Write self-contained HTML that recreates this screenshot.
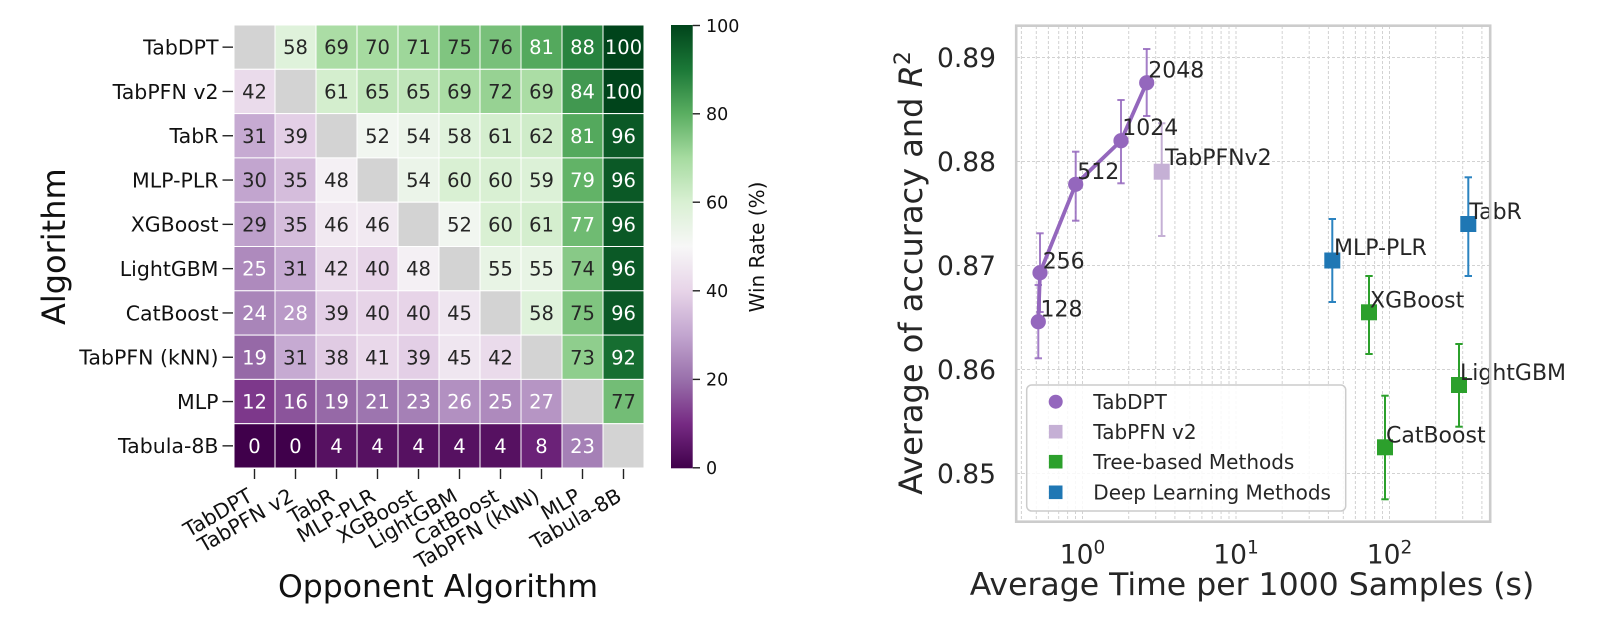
<!DOCTYPE html>
<html><head><meta charset="utf-8"><style>
html,body{margin:0;padding:0;background:#fff;}
svg{display:block;font-family:"DejaVu Sans","Liberation Sans",sans-serif;}
.hl{font-size:20.5px;fill:#111;}
.an{font-size:19.5px;text-anchor:middle;}
.w{fill:#fff;}
.d{fill:#262626;}
.ct{font-size:17.5px;fill:#111;}
.rt{font-size:26.5px;fill:#262626;}
.pl{font-size:22px;fill:#262626;}
.lg{font-size:20px;fill:#262626;}
</style></head><body>
<svg width="1601" height="620" viewBox="0 0 1601 620" xmlns="http://www.w3.org/2000/svg">
<defs>
<linearGradient id="prgn" x1="0" y1="1" x2="0" y2="0">
<stop offset="0" stop-color="#40004b"/><stop offset="0.1" stop-color="#762a83"/><stop offset="0.2" stop-color="#9970ab"/><stop offset="0.3" stop-color="#c2a5cf"/><stop offset="0.4" stop-color="#e7d4e8"/><stop offset="0.5" stop-color="#f7f7f7"/><stop offset="0.6" stop-color="#d9f0d3"/><stop offset="0.7" stop-color="#a6dba0"/><stop offset="0.8" stop-color="#5aae61"/><stop offset="0.9" stop-color="#1b7837"/><stop offset="1" stop-color="#00441b"/>
</linearGradient>
</defs>

<!-- HEATMAP CELLS -->
<g stroke="#ffffff" stroke-width="1">
<!-- row 0 -->
<rect x="234" y="25" width="41" height="44.3" fill="#d3d3d3"/>
<rect x="275" y="25" width="41" height="44.3" fill="#dff2db"/>
<rect x="316" y="25" width="41" height="44.3" fill="#abdda5"/>
<rect x="357" y="25" width="41" height="44.3" fill="#a6dba0"/>
<rect x="398" y="25" width="41" height="44.3" fill="#9ed79a"/>
<rect x="439" y="25" width="41" height="44.3" fill="#80c580"/>
<rect x="480" y="25" width="41" height="44.3" fill="#78c07a"/>
<rect x="521" y="25" width="41" height="44.3" fill="#54a95d"/>
<rect x="562" y="25" width="41" height="44.3" fill="#28833f"/>
<rect x="603" y="25" width="41" height="44.3" fill="#00441b"/>
<!-- row 1 -->
<rect x="234" y="69.3" width="41" height="44.3" fill="#eadbeb"/>
<rect x="275" y="69.3" width="41" height="44.3" fill="#d3d3d3"/>
<rect x="316" y="69.3" width="41" height="44.3" fill="#d4eece"/>
<rect x="357" y="69.3" width="41" height="44.3" fill="#c0e6ba"/>
<rect x="398" y="69.3" width="41" height="44.3" fill="#c0e6ba"/>
<rect x="439" y="69.3" width="41" height="44.3" fill="#abdda5"/>
<rect x="480" y="69.3" width="41" height="44.3" fill="#97d293"/>
<rect x="521" y="69.3" width="41" height="44.3" fill="#abdda5"/>
<rect x="562" y="69.3" width="41" height="44.3" fill="#419850"/>
<rect x="603" y="69.3" width="41" height="44.3" fill="#00441b"/>
<!-- row 2 -->
<rect x="234" y="113.6" width="41" height="44.3" fill="#c6aad2"/>
<rect x="275" y="113.6" width="41" height="44.3" fill="#e3cfe6"/>
<rect x="316" y="113.6" width="41" height="44.3" fill="#d3d3d3"/>
<rect x="357" y="113.6" width="41" height="44.3" fill="#f1f6f0"/>
<rect x="398" y="113.6" width="41" height="44.3" fill="#ebf4e9"/>
<rect x="439" y="113.6" width="41" height="44.3" fill="#dff2db"/>
<rect x="480" y="113.6" width="41" height="44.3" fill="#d4eece"/>
<rect x="521" y="113.6" width="41" height="44.3" fill="#cfecc9"/>
<rect x="562" y="113.6" width="41" height="44.3" fill="#54a95d"/>
<rect x="603" y="113.6" width="41" height="44.3" fill="#0b5926"/>
<!-- row 3 -->
<rect x="234" y="157.9" width="41" height="44.3" fill="#c2a5cf"/>
<rect x="275" y="157.9" width="41" height="44.3" fill="#d5bddc"/>
<rect x="316" y="157.9" width="41" height="44.3" fill="#f4f0f4"/>
<rect x="357" y="157.9" width="41" height="44.3" fill="#d3d3d3"/>
<rect x="398" y="157.9" width="41" height="44.3" fill="#ebf4e9"/>
<rect x="439" y="157.9" width="41" height="44.3" fill="#d9f0d3"/>
<rect x="480" y="157.9" width="41" height="44.3" fill="#d9f0d3"/>
<rect x="521" y="157.9" width="41" height="44.3" fill="#dcf1d7"/>
<rect x="562" y="157.9" width="41" height="44.3" fill="#62b367"/>
<rect x="603" y="157.9" width="41" height="44.3" fill="#0b5926"/>
<!-- row 4 -->
<rect x="234" y="202.2" width="41" height="44.3" fill="#bea0cb"/>
<rect x="275" y="202.2" width="41" height="44.3" fill="#d5bddc"/>
<rect x="316" y="202.2" width="41" height="44.3" fill="#f1e9f1"/>
<rect x="357" y="202.2" width="41" height="44.3" fill="#f1e9f1"/>
<rect x="398" y="202.2" width="41" height="44.3" fill="#d3d3d3"/>
<rect x="439" y="202.2" width="41" height="44.3" fill="#f1f6f0"/>
<rect x="480" y="202.2" width="41" height="44.3" fill="#d9f0d3"/>
<rect x="521" y="202.2" width="41" height="44.3" fill="#d4eece"/>
<rect x="562" y="202.2" width="41" height="44.3" fill="#6fbb72"/>
<rect x="603" y="202.2" width="41" height="44.3" fill="#0b5926"/>
<!-- row 5 -->
<rect x="234" y="246.5" width="41" height="44.3" fill="#ae8abd"/>
<rect x="275" y="246.5" width="41" height="44.3" fill="#c6aad2"/>
<rect x="316" y="246.5" width="41" height="44.3" fill="#eadbeb"/>
<rect x="357" y="246.5" width="41" height="44.3" fill="#e7d4e8"/>
<rect x="398" y="246.5" width="41" height="44.3" fill="#f4f0f4"/>
<rect x="439" y="246.5" width="41" height="44.3" fill="#d3d3d3"/>
<rect x="480" y="246.5" width="41" height="44.3" fill="#e8f4e5"/>
<rect x="521" y="246.5" width="41" height="44.3" fill="#e8f4e5"/>
<rect x="562" y="246.5" width="41" height="44.3" fill="#88c987"/>
<rect x="603" y="246.5" width="41" height="44.3" fill="#0b5926"/>
<!-- row 6 -->
<rect x="234" y="290.8" width="41" height="44.3" fill="#a985b9"/>
<rect x="275" y="290.8" width="41" height="44.3" fill="#ba9ac8"/>
<rect x="316" y="290.8" width="41" height="44.3" fill="#e3cfe6"/>
<rect x="357" y="290.8" width="41" height="44.3" fill="#e7d4e8"/>
<rect x="398" y="290.8" width="41" height="44.3" fill="#e7d4e8"/>
<rect x="439" y="290.8" width="41" height="44.3" fill="#efe6f0"/>
<rect x="480" y="290.8" width="41" height="44.3" fill="#d3d3d3"/>
<rect x="521" y="290.8" width="41" height="44.3" fill="#dff2db"/>
<rect x="562" y="290.8" width="41" height="44.3" fill="#80c580"/>
<rect x="603" y="290.8" width="41" height="44.3" fill="#0b5926"/>
<!-- row 7 -->
<rect x="234" y="335.1" width="41" height="44.3" fill="#9669a7"/>
<rect x="275" y="335.1" width="41" height="44.3" fill="#c6aad2"/>
<rect x="316" y="335.1" width="41" height="44.3" fill="#e0cbe3"/>
<rect x="357" y="335.1" width="41" height="44.3" fill="#e9d8ea"/>
<rect x="398" y="335.1" width="41" height="44.3" fill="#e3cfe6"/>
<rect x="439" y="335.1" width="41" height="44.3" fill="#efe6f0"/>
<rect x="480" y="335.1" width="41" height="44.3" fill="#eadbeb"/>
<rect x="521" y="335.1" width="41" height="44.3" fill="#d3d3d3"/>
<rect x="562" y="335.1" width="41" height="44.3" fill="#8fce8d"/>
<rect x="603" y="335.1" width="41" height="44.3" fill="#166e31"/>
<!-- row 8 -->
<rect x="234" y="379.4" width="41" height="44.3" fill="#7d388b"/>
<rect x="275" y="379.4" width="41" height="44.3" fill="#8b549b"/>
<rect x="316" y="379.4" width="41" height="44.3" fill="#9669a7"/>
<rect x="357" y="379.4" width="41" height="44.3" fill="#9d75af"/>
<rect x="398" y="379.4" width="41" height="44.3" fill="#a580b6"/>
<rect x="439" y="379.4" width="41" height="44.3" fill="#b290c1"/>
<rect x="480" y="379.4" width="41" height="44.3" fill="#ae8abd"/>
<rect x="521" y="379.4" width="41" height="44.3" fill="#b695c4"/>
<rect x="562" y="379.4" width="41" height="44.3" fill="#d3d3d3"/>
<rect x="603" y="379.4" width="41" height="44.3" fill="#73bd76"/>
<!-- row 9 -->
<rect x="234" y="423.7" width="41" height="44.3" fill="#40004b"/>
<rect x="275" y="423.7" width="41" height="44.3" fill="#40004b"/>
<rect x="316" y="423.7" width="41" height="44.3" fill="#561161"/>
<rect x="357" y="423.7" width="41" height="44.3" fill="#561161"/>
<rect x="398" y="423.7" width="41" height="44.3" fill="#561161"/>
<rect x="439" y="423.7" width="41" height="44.3" fill="#561161"/>
<rect x="480" y="423.7" width="41" height="44.3" fill="#561161"/>
<rect x="521" y="423.7" width="41" height="44.3" fill="#6b2278"/>
<rect x="562" y="423.7" width="41" height="44.3" fill="#a580b6"/>
<rect x="603" y="423.7" width="41" height="44.3" fill="#d3d3d3"/>
</g>

<!-- ANNOTATIONS -->
<g class="an">
<text x="295.5" y="54.2" class="d">58</text><text x="336.5" y="54.2" class="d">69</text><text x="377.5" y="54.2" class="d">70</text><text x="418.5" y="54.2" class="d">71</text><text x="459.5" y="54.2" class="d">75</text><text x="500.5" y="54.2" class="d">76</text><text x="541.5" y="54.2" class="w">81</text><text x="582.5" y="54.2" class="w">88</text><text x="623.5" y="54.2" class="w">100</text>
<text x="254.5" y="98.5" class="d">42</text><text x="336.5" y="98.5" class="d">61</text><text x="377.5" y="98.5" class="d">65</text><text x="418.5" y="98.5" class="d">65</text><text x="459.5" y="98.5" class="d">69</text><text x="500.5" y="98.5" class="d">72</text><text x="541.5" y="98.5" class="d">69</text><text x="582.5" y="98.5" class="w">84</text><text x="623.5" y="98.5" class="w">100</text>
<text x="254.5" y="142.8" class="d">31</text><text x="295.5" y="142.8" class="d">39</text><text x="377.5" y="142.8" class="d">52</text><text x="418.5" y="142.8" class="d">54</text><text x="459.5" y="142.8" class="d">58</text><text x="500.5" y="142.8" class="d">61</text><text x="541.5" y="142.8" class="d">62</text><text x="582.5" y="142.8" class="w">81</text><text x="623.5" y="142.8" class="w">96</text>
<text x="254.5" y="187.1" class="d">30</text><text x="295.5" y="187.1" class="d">35</text><text x="336.5" y="187.1" class="d">48</text><text x="418.5" y="187.1" class="d">54</text><text x="459.5" y="187.1" class="d">60</text><text x="500.5" y="187.1" class="d">60</text><text x="541.5" y="187.1" class="d">59</text><text x="582.5" y="187.1" class="w">79</text><text x="623.5" y="187.1" class="w">96</text>
<text x="254.5" y="231.4" class="d">29</text><text x="295.5" y="231.4" class="d">35</text><text x="336.5" y="231.4" class="d">46</text><text x="377.5" y="231.4" class="d">46</text><text x="459.5" y="231.4" class="d">52</text><text x="500.5" y="231.4" class="d">60</text><text x="541.5" y="231.4" class="d">61</text><text x="582.5" y="231.4" class="w">77</text><text x="623.5" y="231.4" class="w">96</text>
<text x="254.5" y="275.7" class="w">25</text><text x="295.5" y="275.7" class="d">31</text><text x="336.5" y="275.7" class="d">42</text><text x="377.5" y="275.7" class="d">40</text><text x="418.5" y="275.7" class="d">48</text><text x="500.5" y="275.7" class="d">55</text><text x="541.5" y="275.7" class="d">55</text><text x="582.5" y="275.7" class="d">74</text><text x="623.5" y="275.7" class="w">96</text>
<text x="254.5" y="320" class="w">24</text><text x="295.5" y="320" class="w">28</text><text x="336.5" y="320" class="d">39</text><text x="377.5" y="320" class="d">40</text><text x="418.5" y="320" class="d">40</text><text x="459.5" y="320" class="d">45</text><text x="541.5" y="320" class="d">58</text><text x="582.5" y="320" class="d">75</text><text x="623.5" y="320" class="w">96</text>
<text x="254.5" y="364.3" class="w">19</text><text x="295.5" y="364.3" class="d">31</text><text x="336.5" y="364.3" class="d">38</text><text x="377.5" y="364.3" class="d">41</text><text x="418.5" y="364.3" class="d">39</text><text x="459.5" y="364.3" class="d">45</text><text x="500.5" y="364.3" class="d">42</text><text x="582.5" y="364.3" class="d">73</text><text x="623.5" y="364.3" class="w">92</text>
<text x="254.5" y="408.6" class="w">12</text><text x="295.5" y="408.6" class="w">16</text><text x="336.5" y="408.6" class="w">19</text><text x="377.5" y="408.6" class="w">21</text><text x="418.5" y="408.6" class="w">23</text><text x="459.5" y="408.6" class="w">26</text><text x="500.5" y="408.6" class="w">25</text><text x="541.5" y="408.6" class="w">27</text><text x="623.5" y="408.6" class="d">77</text>
<text x="254.5" y="452.9" class="w">0</text><text x="295.5" y="452.9" class="w">0</text><text x="336.5" y="452.9" class="w">4</text><text x="377.5" y="452.9" class="w">4</text><text x="418.5" y="452.9" class="w">4</text><text x="459.5" y="452.9" class="w">4</text><text x="500.5" y="452.9" class="w">4</text><text x="541.5" y="452.9" class="w">8</text><text x="582.5" y="452.9" class="w">23</text>
</g>

<!-- Y tick marks and labels -->
<g stroke="#222" stroke-width="1.4">
<line x1="222.5" y1="47.15" x2="233" y2="47.15"/><line x1="222.5" y1="91.45" x2="233" y2="91.45"/><line x1="222.5" y1="135.75" x2="233" y2="135.75"/><line x1="222.5" y1="180.05" x2="233" y2="180.05"/><line x1="222.5" y1="224.35" x2="233" y2="224.35"/><line x1="222.5" y1="268.65" x2="233" y2="268.65"/><line x1="222.5" y1="312.95" x2="233" y2="312.95"/><line x1="222.5" y1="357.25" x2="233" y2="357.25"/><line x1="222.5" y1="401.55" x2="233" y2="401.55"/><line x1="222.5" y1="445.85" x2="233" y2="445.85"/>
</g>
<g class="hl" text-anchor="end">
<text x="218.5" y="54.5">TabDPT</text>
<text x="218.5" y="98.8">TabPFN v2</text>
<text x="218.5" y="143.1">TabR</text>
<text x="218.5" y="187.4">MLP-PLR</text>
<text x="218.5" y="231.7">XGBoost</text>
<text x="218.5" y="276">LightGBM</text>
<text x="218.5" y="320.3">CatBoost</text>
<text x="218.5" y="364.6">TabPFN (kNN)</text>
<text x="218.5" y="408.9">MLP</text>
<text x="218.5" y="453.2">Tabula-8B</text>
</g>

<!-- X tick marks and labels -->
<g stroke="#222" stroke-width="1.4">
<line x1="254.5" y1="469" x2="254.5" y2="479"/><line x1="295.5" y1="469" x2="295.5" y2="479"/><line x1="336.5" y1="469" x2="336.5" y2="479"/><line x1="377.5" y1="469" x2="377.5" y2="479"/><line x1="418.5" y1="469" x2="418.5" y2="479"/><line x1="459.5" y1="469" x2="459.5" y2="479"/><line x1="500.5" y1="469" x2="500.5" y2="479"/><line x1="541.5" y1="469" x2="541.5" y2="479"/><line x1="582.5" y1="469" x2="582.5" y2="479"/><line x1="623.5" y1="469" x2="623.5" y2="479"/>
</g>
<g class="hl" text-anchor="end">
<text transform="translate(254,500) rotate(-30)">TabDPT</text>
<text transform="translate(295,500) rotate(-30)">TabPFN v2</text>
<text transform="translate(336,500) rotate(-30)">TabR</text>
<text transform="translate(377,500) rotate(-30)">MLP-PLR</text>
<text transform="translate(418,500) rotate(-30)">XGBoost</text>
<text transform="translate(459,500) rotate(-30)">LightGBM</text>
<text transform="translate(500,500) rotate(-30)">CatBoost</text>
<text transform="translate(541,500) rotate(-30)">TabPFN (kNN)</text>
<text transform="translate(582,500) rotate(-30)">MLP</text>
<text transform="translate(623,500) rotate(-30)">Tabula-8B</text>
</g>

<text x="438" y="597" font-size="31.5" fill="#111" text-anchor="middle">Opponent Algorithm</text>
<text transform="translate(65,246.7) rotate(-90)" font-size="32" fill="#111" text-anchor="middle">Algorithm</text>

<!-- COLORBAR -->
<rect x="671" y="25" width="21.7" height="443.3" fill="url(#prgn)"/>
<g stroke="#222" stroke-width="1.4">
<line x1="692.7" y1="25.5" x2="700" y2="25.5"/><line x1="692.7" y1="113.8" x2="700" y2="113.8"/><line x1="692.7" y1="202.2" x2="700" y2="202.2"/><line x1="692.7" y1="290.8" x2="700" y2="290.8"/><line x1="692.7" y1="379.4" x2="700" y2="379.4"/><line x1="692.7" y1="467.8" x2="700" y2="467.8"/>
</g>
<g class="ct">
<text x="706" y="31.8">100</text>
<text x="706" y="120.1">80</text>
<text x="706" y="208.5">60</text>
<text x="706" y="297.1">40</text>
<text x="706" y="385.7">20</text>
<text x="706" y="474.1">0</text>
</g>
<text transform="translate(764,247) rotate(-90)" font-size="20" fill="#111" text-anchor="middle">Win Rate (%)</text>

<!-- RIGHT PLOT -->
<g stroke="#d2d2d2" stroke-width="1" stroke-dasharray="3,2">
<line x1="1021.4" y1="26" x2="1021.4" y2="521"/><line x1="1036.3" y1="26" x2="1036.3" y2="521"/><line x1="1048.4" y1="26" x2="1048.4" y2="521"/><line x1="1058.7" y1="26" x2="1058.7" y2="521"/><line x1="1067.6" y1="26" x2="1067.6" y2="521"/><line x1="1075.5" y1="26" x2="1075.5" y2="521"/><line x1="1082.5" y1="26" x2="1082.5" y2="521"/>
<line x1="1128.7" y1="26" x2="1128.7" y2="521"/><line x1="1155.7" y1="26" x2="1155.7" y2="521"/><line x1="1174.9" y1="26" x2="1174.9" y2="521"/><line x1="1189.8" y1="26" x2="1189.8" y2="521"/><line x1="1201.9" y1="26" x2="1201.9" y2="521"/><line x1="1212.2" y1="26" x2="1212.2" y2="521"/><line x1="1221.1" y1="26" x2="1221.1" y2="521"/><line x1="1229" y1="26" x2="1229" y2="521"/><line x1="1236" y1="26" x2="1236" y2="521"/>
<line x1="1282.2" y1="26" x2="1282.2" y2="521"/><line x1="1309.2" y1="26" x2="1309.2" y2="521"/><line x1="1328.4" y1="26" x2="1328.4" y2="521"/><line x1="1343.3" y1="26" x2="1343.3" y2="521"/><line x1="1355.4" y1="26" x2="1355.4" y2="521"/><line x1="1365.7" y1="26" x2="1365.7" y2="521"/><line x1="1374.6" y1="26" x2="1374.6" y2="521"/><line x1="1382.5" y1="26" x2="1382.5" y2="521"/><line x1="1389.5" y1="26" x2="1389.5" y2="521"/>
<line x1="1435.7" y1="26" x2="1435.7" y2="521"/><line x1="1462.7" y1="26" x2="1462.7" y2="521"/><line x1="1481.9" y1="26" x2="1481.9" y2="521"/>
<line x1="1017" y1="57.5" x2="1490" y2="57.5"/><line x1="1017" y1="161.5" x2="1490" y2="161.5"/><line x1="1017" y1="265.5" x2="1490" y2="265.5"/><line x1="1017" y1="369.5" x2="1490" y2="369.5"/><line x1="1017" y1="473.5" x2="1490" y2="473.5"/>
</g>

<!-- Legend -->
<rect x="1026.7" y="385" width="319" height="126" rx="5" fill="#fff" fill-opacity="0.85" stroke="#cccccc" stroke-width="1.5"/>
<circle cx="1055.7" cy="401.7" r="7" fill="#9467bd"/>
<rect x="1048.9" y="424.9" width="13.6" height="13.6" fill="#c5b0d5"/>
<rect x="1048.9" y="454.9" width="13.6" height="13.6" fill="#2ca02c"/>
<rect x="1048.9" y="485.5" width="13.6" height="13.6" fill="#1f77b4"/>
<g class="lg">
<text x="1093.3" y="409">TabDPT</text>
<text x="1093.3" y="439">TabPFN v2</text>
<text x="1093.3" y="469">Tree-based Methods</text>
<text x="1093.3" y="499.6">Deep Learning Methods</text>
</g>

<!-- error bars -->
<g stroke-width="2">
<g stroke="#9467bd" stroke-opacity="0.85">
<line x1="1038.3" y1="285" x2="1038.3" y2="358.3"/><line x1="1034.6" y1="285" x2="1042" y2="285"/><line x1="1034.6" y1="358.3" x2="1042" y2="358.3"/>
<line x1="1040" y1="233.3" x2="1040" y2="312"/><line x1="1036.3" y1="233.3" x2="1043.7" y2="233.3"/><line x1="1036.3" y1="312" x2="1043.7" y2="312"/>
<line x1="1075.7" y1="151.7" x2="1075.7" y2="220.7"/><line x1="1072" y1="151.7" x2="1079.4" y2="151.7"/><line x1="1072" y1="220.7" x2="1079.4" y2="220.7"/>
<line x1="1121" y1="100" x2="1121" y2="183.3"/><line x1="1117.3" y1="100" x2="1124.7" y2="100"/><line x1="1117.3" y1="183.3" x2="1124.7" y2="183.3"/>
<line x1="1146.7" y1="49" x2="1146.7" y2="116"/><line x1="1143" y1="49" x2="1150.4" y2="49"/><line x1="1143" y1="116" x2="1150.4" y2="116"/>
</g>
<g stroke="#c5b0d5">
<line x1="1161.7" y1="123.3" x2="1161.7" y2="236"/><line x1="1158" y1="123.3" x2="1165.4" y2="123.3"/><line x1="1158" y1="236" x2="1165.4" y2="236"/>
</g>
<g stroke="#2b83c0">
<line x1="1332.3" y1="219" x2="1332.3" y2="302"/><line x1="1328.6" y1="219" x2="1336" y2="219"/><line x1="1328.6" y1="302" x2="1336" y2="302"/>
<line x1="1468.3" y1="177.3" x2="1468.3" y2="276"/><line x1="1464.6" y1="177.3" x2="1472" y2="177.3"/><line x1="1464.6" y1="276" x2="1472" y2="276"/>
</g>
<g stroke="#2ca02c">
<line x1="1369" y1="276" x2="1369" y2="354"/><line x1="1365.3" y1="276" x2="1372.7" y2="276"/><line x1="1365.3" y1="354" x2="1372.7" y2="354"/>
<line x1="1459" y1="344" x2="1459" y2="426.7"/><line x1="1455.3" y1="344" x2="1462.7" y2="344"/><line x1="1455.3" y1="426.7" x2="1462.7" y2="426.7"/>
<line x1="1385" y1="395.7" x2="1385" y2="499.3"/><line x1="1381.3" y1="395.7" x2="1388.7" y2="395.7"/><line x1="1381.3" y1="499.3" x2="1388.7" y2="499.3"/>
</g>
</g>

<!-- TabDPT line & markers -->
<polyline points="1038.3,321.7 1040,272.7 1075.7,184.3 1121,140.7 1146.7,82.7" fill="none" stroke="#9467bd" stroke-width="3.8" stroke-linejoin="round"/>
<g fill="#9467bd">
<circle cx="1038.3" cy="321.7" r="7.6"/><circle cx="1040" cy="272.7" r="7.6"/><circle cx="1075.7" cy="184.3" r="7.6"/><circle cx="1121" cy="140.7" r="7.6"/><circle cx="1146.7" cy="82.7" r="7.6"/>
</g>
<rect x="1153.7" y="163.7" width="16" height="16" fill="#c5b0d5"/>
<rect x="1324.3" y="252.5" width="16" height="16" fill="#1f77b4"/>
<rect x="1460.3" y="216" width="16" height="16" fill="#1f77b4"/>
<rect x="1361" y="304.3" width="16" height="16" fill="#2ca02c"/>
<rect x="1451" y="377" width="16" height="16" fill="#2ca02c"/>
<rect x="1377" y="439.3" width="16" height="16" fill="#2ca02c"/>

<!-- point labels -->
<g class="pl">
<text x="1040.5" y="316.7">128</text>
<text x="1042.7" y="268.3">256</text>
<text x="1077.3" y="179">512</text>
<text x="1122.3" y="135">1024</text>
<text x="1148.3" y="77.3">2048</text>
<text x="1165" y="165">TabPFNv2</text>
<text x="1334" y="255">MLP-PLR</text>
<text x="1469.3" y="219">TabR</text>
<text x="1370" y="307.3">XGBoost</text>
<text x="1460" y="380">LightGBM</text>
<text x="1386" y="442.3">CatBoost</text>
</g>

<!-- frame -->
<rect x="1016.2" y="25.7" width="474" height="496" fill="none" stroke="#cccccc" stroke-width="2.6"/>

<!-- y tick labels -->
<g class="rt" text-anchor="end">
<text x="996" y="66.8">0.89</text>
<text x="996" y="170.8">0.88</text>
<text x="996" y="274.8">0.87</text>
<text x="996" y="378.8">0.86</text>
<text x="996" y="482.8">0.85</text>
</g>
<!-- x tick labels -->
<g class="rt" text-anchor="middle">
<text x="1082.5" y="563.3">10<tspan font-size="18.5" dy="-10">0</tspan></text>
<text x="1236" y="563.3">10<tspan font-size="18.5" dy="-10">1</tspan></text>
<text x="1389.5" y="563.3">10<tspan font-size="18.5" dy="-10">2</tspan></text>
</g>
<text x="1252" y="595" font-size="31.5" fill="#262626" text-anchor="middle">Average Time per 1000 Samples (s)</text>
<text transform="translate(922,273) rotate(-90)" font-size="32" fill="#262626" text-anchor="middle">Average of accuracy and <tspan font-style="italic">R</tspan><tspan font-size="22" dy="-12">2</tspan></text>
</svg>
</body></html>
